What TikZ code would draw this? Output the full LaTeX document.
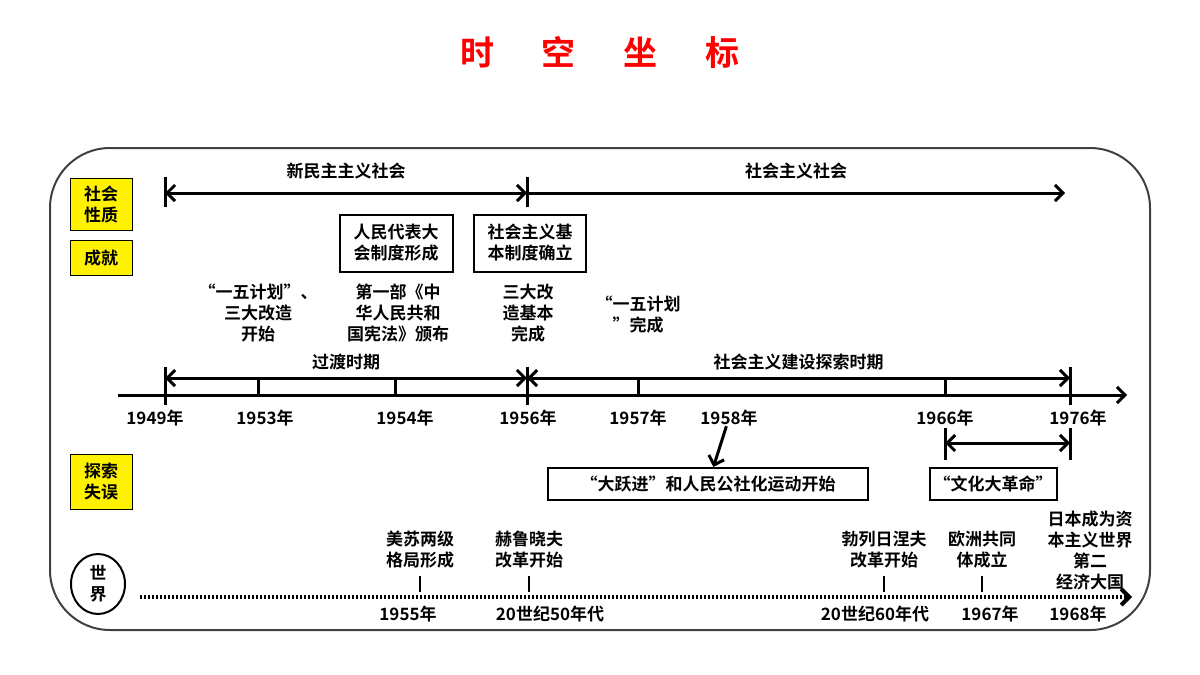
\documentclass[tikz,border=0pt]{standalone}
\usepackage{fontspec}
\setmainfont{Noto Sans CJK SC}[BoldFont={* Bold}]
\usetikzlibrary{arrows.meta}
\usetikzlibrary{shapes.geometric, positioning}
\tikzstyle{every node} = [inner sep=0]
\tikzset{
  txt/.style={font=\fontsize{17}{21}\selectfont\bfseries, align=center},
  yr/.style={font=\fontsize{17}{21}\selectfont\bfseries},
  tag/.style={draw, thick, fill=yellow, minimum width=62pt, txt},
  evt/.style={draw, line width=2pt, txt},
  span/.style={line width=3pt, {Straight Barb[length=8pt,width=16pt]}-{Straight Barb[length=8pt,width=16pt]}},
  tick/.style={line width=3pt},
}
\begin{document}
\begin{tikzpicture}[x=1pt, y=-1pt]
            \useasboundingbox (0,0) rectangle (1200,675);
            % Title
            \node[font=\fontsize{34}{40}\selectfont\bfseries, text=red] (title) at (600,52) {时\hspace{48pt}空\hspace{48pt}坐\hspace{48pt}标};

            % Frame
            \draw[line width=2pt, rounded corners=60pt, black!75] (50,148) rectangle (1150,630);

            % Row tags
            \node[tag, minimum height=52pt] (nature) at (101,204) {社会\\性质};
            \node[tag, minimum height=35pt] (achieve) at (101,258) {成就};
            \node[tag, minimum height=55pt] (error) at (101,482) {探索\\失误};
            \node[draw, line width=2pt, ellipse, minimum width=54pt, minimum height=60pt, txt] (world) at (98,584) {世\\界};

            % Society
            \coordinate (s49) at (165,193);
            \coordinate (s56) at (527,193);
            \coordinate (s76) at (1065,193);
            \draw[tick] (165,177) -- (165,207);
            \draw[tick] (527,177) -- (527,207);
            \draw[span] (s49) -- (s56) node[midway, above=12pt, txt] {新民主主义社会};
            \draw[line width=3pt, -{Straight Barb[length=8pt,width=16pt]}] (s56) -- (s76) node[midway, above=12pt, txt] {社会主义社会};

            % Achievements
            \node[evt, minimum width=113pt, minimum height=57pt] (npc) at (396,243) {人民代表大\\会制度形成};
            \node[evt, minimum width=112pt, minimum height=57pt] (basic) at (530,243) {社会主义基\\本制度确立};
            \node[txt] (plan) at (258,313) {“一五计划”、\\三大改造\\开始};
            \node[txt] (law) at (398,313) {第一部《中\\华人民共和\\国宪法》颁布};
            \node[txt] (reform) at (528,313) {三大改\\造基本\\完成};
            \node[txt] (planend) at (638,315) {“一五计划\\”完成};

            % Main axis
            \coordinate (axl) at (118,395);
            \coordinate (axr) at (1127,395);
            \draw[line width=3pt, -{Straight Barb[length=8pt,width=16pt]}] (axl) -- (axr);
            \foreach \x in {165,527,1070} \draw[tick] (\x,367) -- (\x,405);
            \foreach \x in {258,395,638,945} \draw[tick] (\x,380) -- (\x,395);
            \draw[span] (165,378) -- (527,378) node[midway, above=6pt, txt] {过渡时期};
            \draw[span] (527,378) -- (1070,378) node[midway, above=6pt, txt] {社会主义建设探索时期};
            \foreach \x/\y in {155/1949, 265/1953, 405/1954, 528/1956, 638/1957, 729/1958, 945/1966, 1078/1976}
              \node[yr] (y\y) at (\x,418) {\y 年};

            % Errors
            \node[evt, minimum width=320pt, minimum height=32pt] (leap) at (708,484) {“大跃进”和人民公社化运动开始};
            \draw[line width=3pt, -{Straight Barb[length=8pt,width=16pt]}] (y1958) -- (leap);
            \node[evt, minimum width=127pt, minimum height=32pt] (culture) at (993,484) {“文化大革命”};
            \draw[tick] (945,428) -- (945,460);
            \draw[tick] (1070,428) -- (1070,460);
            \draw[span] (945,443) -- (1070,443);

            % World
            \coordinate (wl) at (140,597);
            \coordinate (wr) at (1132,597);
            \draw[line width=4pt, dash pattern=on 2pt off 2pt, -{Straight Barb[length=8pt,width=16pt]}] (wl) -- (wr);
            \foreach \x in {420,529,884,982} \draw[line width=2pt] (\x,576) -- (\x,592);
            \node[txt] (bipolar) at (420,550) {美苏两级\\格局形成};
            \node[txt] (khru) at (529,550) {赫鲁晓夫\\改革开始};
            \node[txt] (brezh) at (884,550) {勃列日涅夫\\改革开始};
            \node[txt] (ec) at (982,550) {欧洲共同\\体成立};
            \node[txt] (japan) at (1090,550) {日本成为资\\本主义世界\\第二\\经济大国};
            \foreach \x/\t in {408/1955年, 550/20世纪50年代, 875/20世纪60年代, 990/1967年, 1078/1968年}
              \node[yr] at (\x,614) {\t};
        \end{tikzpicture}
\end{document}
